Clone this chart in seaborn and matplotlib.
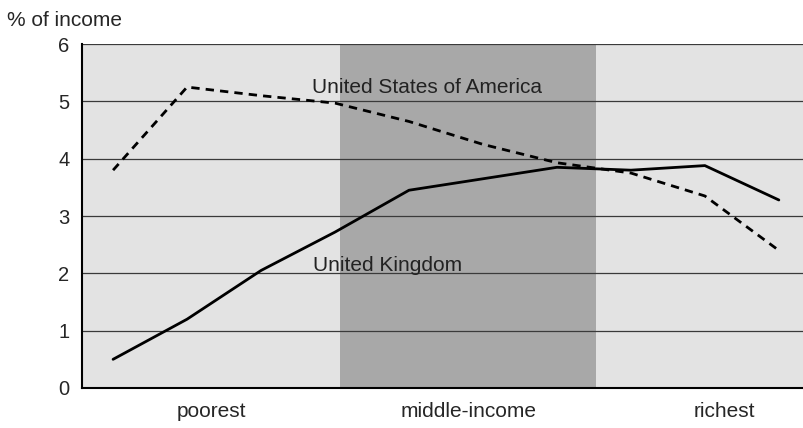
import numpy as np
import pandas as pd
import seaborn as sns
import matplotlib.pyplot as plt

# income deciles, poorest to richest
deciles = [1, 2, 3, 4, 5, 6, 7, 8, 9, 10]
usa = [3.8, 5.25, 5.1, 4.97, 4.65, 4.25, 3.93, 3.75, 3.35, 2.4]
uk = [0.5, 1.2, 2.05, 2.72, 3.45, 3.65, 3.85, 3.8, 3.88, 3.28]
groups = ["poorest", "middle-income", "richest"]
y_ticks = [0, 1, 2, 3, 4, 5, 6]

df = pd.DataFrame({
    "decile": deciles * 2,
    "share": usa + uk,
    "country": ["United States of America"] * 10 + ["United Kingdom"] * 10,
})

sns.set_style("white")
plt.rcParams["font.family"] = ["Liberation Sans", "DejaVu Sans"]

fig = plt.figure(figsize=(8.04, 4.28), dpi=100)
ax = fig.add_axes([0.102, 0.0935, 0.898, 0.8035])

# group bands: boundaries in decile units
x_lo, x_hi = 0.58, 10.34
b1, b2 = 4.07, 7.53
ax.set_facecolor("#e3e3e3")
ax.axvspan(b1, b2, color="#a8a8a8", zorder=0, lw=0)

for y in y_ticks[1:]:
    ax.axhline(y, color="#3a3a3a", lw=0.9, zorder=1)

sns.lineplot(
    data=df, x="decile", y="share", style="country",
    style_order=["United States of America", "United Kingdom"],
    dashes={"United States of America": (3, 2.2), "United Kingdom": ""},
    color="black", lw=2, legend=False, ax=ax, zorder=3,
)

ax.set_xlim(x_lo, x_hi)
ax.set_ylim(0, 6)
ax.set_yticks(y_ticks)
ax.set_yticklabels([str(v) for v in y_ticks], fontsize=14.5)
ax.set_xticks([(x_lo + b1) / 2, (b1 + b2) / 2, (b2 + 11) / 2])
ax.set_xticklabels(groups, fontsize=15)
ax.tick_params(axis="x", length=0, pad=10)
ax.set_xticks([b1, b2], minor=True)
ax.tick_params(axis="x", which="minor", length=4, width=1, color="black", direction="out")
ax.tick_params(axis="y", length=4, width=1, color="black", direction="out", pad=5)
ax.set_xlabel("")
ax.set_ylabel("")

for s in ["top", "right"]:
    ax.spines[s].set_visible(False)
for s in ["left", "bottom"]:
    ax.spines[s].set_color("black")
    ax.spines[s].set_linewidth(1.5)

ax.text(3.69, 5.24, "United States of America", fontsize=15, color="#222222",
        ha="left", va="center", zorder=4)
ax.text(3.70, 2.14, "United Kingdom", fontsize=15, color="#222222",
        ha="left", va="center", zorder=4)
fig.text(0.009, 0.953, "% of income", fontsize=15, ha="left", va="center")

fig.savefig("out.png", dpi=100)
